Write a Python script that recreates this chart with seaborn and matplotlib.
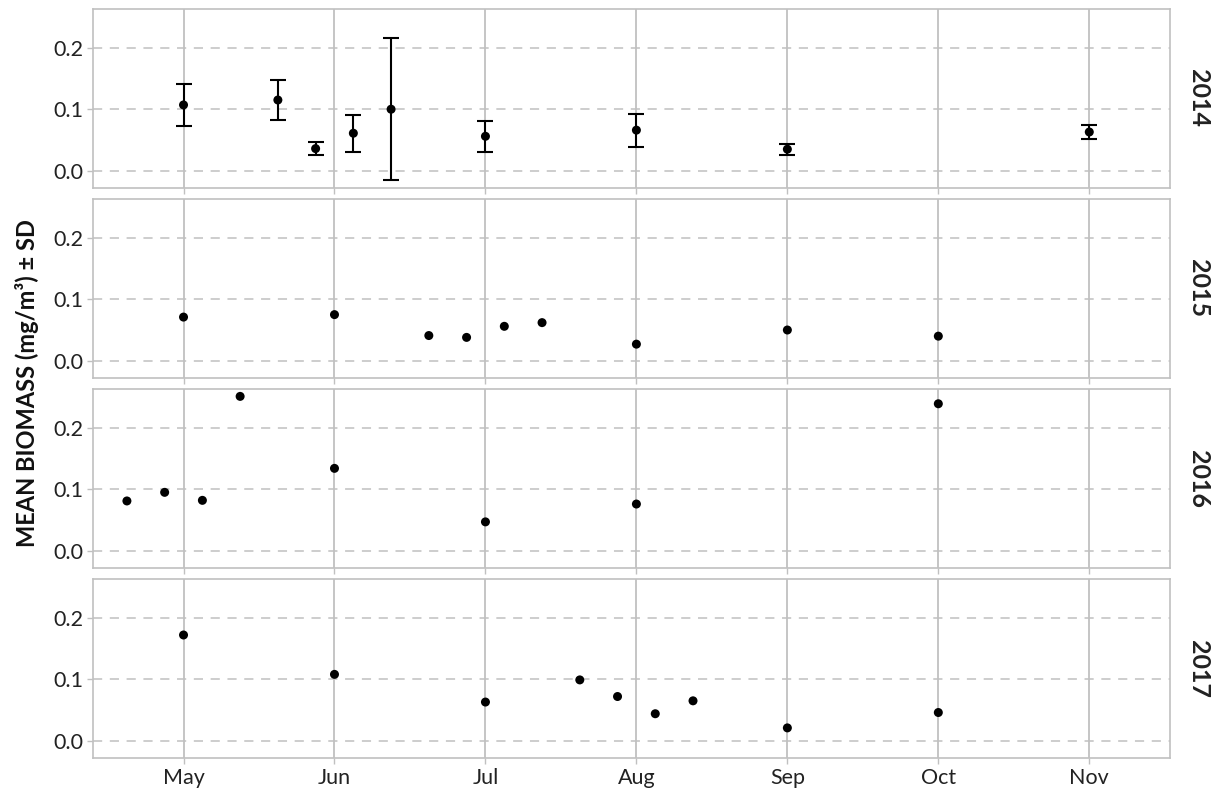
import numpy as np
import pandas as pd
import matplotlib
matplotlib.use("Agg")
import matplotlib.pyplot as plt
import seaborn as sns

# Facet years and month axis
years = [2014, 2015, 2016, 2017]
month_ticks = [5, 6, 7, 8, 9, 10, 11]
month_labels = ["May", "Jun", "Jul", "Aug", "Sep", "Oct", "Nov"]

# Sampling position as a fractional month (5.0 = start of May)
month_2014 = [5.0, 5.625, 5.875, 6.125, 6.375, 7.0, 8.0, 9.0, 11.0]
biomass_2014 = [0.107, 0.115, 0.036, 0.061, 0.100, 0.056, 0.066, 0.035, 0.063]
sd_2014 = [0.034, 0.033, 0.010, 0.030, 0.115, 0.025, 0.027, 0.009, 0.012]

month_2015 = [5.0, 6.0, 6.625, 6.875, 7.125, 7.375, 8.0, 9.0, 10.0]
biomass_2015 = [0.071, 0.075, 0.041, 0.038, 0.056, 0.062, 0.027, 0.050, 0.040]

month_2016 = [4.625, 4.875, 5.125, 5.375, 6.0, 7.0, 8.0, 10.0]
biomass_2016 = [0.081, 0.095, 0.082, 0.251, 0.134, 0.047, 0.076, 0.239]

month_2017 = [5.0, 6.0, 7.0, 7.625, 7.875, 8.125, 8.375, 9.0, 10.0]
biomass_2017 = [0.172, 0.108, 0.063, 0.099, 0.072, 0.044, 0.065, 0.021, 0.046]

frames = []
for yr, m, b in [(2014, month_2014, biomass_2014), (2015, month_2015, biomass_2015),
                 (2016, month_2016, biomass_2016), (2017, month_2017, biomass_2017)]:
    frames.append(pd.DataFrame({"year": yr, "month": m, "biomass": b}))
df = pd.concat(frames, ignore_index=True)
df["sd"] = np.nan
df.loc[df["year"] == 2014, "sd"] = sd_2014

sns.set_theme(style="white")
plt.rcParams["font.family"] = ["Lato", "DejaVu Sans"]

GRID = "#c0c0c0"
fig, axes = plt.subplots(4, 1, figsize=(12.15, 7.93), dpi=100, sharex=True, sharey=True)
fig.subplots_adjust(left=0.0765, right=0.963, top=0.9887, bottom=0.0441, hspace=0.0615)

for ax, yr in zip(axes, years):
    sub = df[df["year"] == yr]
    ax.set_axisbelow(True)
    for m in month_ticks:
        ax.axvline(m, color=GRID, lw=1.3, zorder=0)
    for v in [0.0, 0.1, 0.2]:
        ax.axhline(v, color=GRID, lw=1.1, ls=(0, (6, 5)), zorder=0)
    if sub["sd"].notna().any():
        ax.errorbar(sub["month"], sub["biomass"], yerr=sub["sd"], fmt="none",
                    ecolor="black", elinewidth=1.5, capsize=5.5, capthick=1.5, zorder=2)
    sns.scatterplot(data=sub, x="month", y="biomass", ax=ax, color="black",
                    s=42, edgecolor="none", linewidth=0, zorder=3, legend=False)
    ax.set_xlim(4.40, 11.535)
    ax.set_ylim(-0.028, 0.263)
    ax.set_yticks([0.0, 0.1, 0.2])
    ax.set_yticklabels(["0.0", "0.1", "0.2"])
    ax.set_xlabel("")
    ax.set_ylabel("")
    for sp in ax.spines.values():
        sp.set_color(GRID)
        sp.set_linewidth(1.2)
    ax.tick_params(axis="both", which="both", length=4, width=1, color=GRID,
                   labelsize=15.5, labelcolor="#222222", pad=3,
                   left=True, bottom=True)
    ax.text(1.026, 0.5, str(yr), transform=ax.transAxes, rotation=270,
            ha="center", va="center", fontsize=18, fontweight="bold", color="#222222")

axes[-1].set_xticks(month_ticks)
axes[-1].set_xticklabels(month_labels)

fig.text(0.0225, 0.517, "MEAN BIOMASS (mg/m³) ± SD", rotation=90, ha="center", va="center",
         fontsize=17, fontweight="bold", color="#111111")

fig.savefig("out.png", dpi=100)
